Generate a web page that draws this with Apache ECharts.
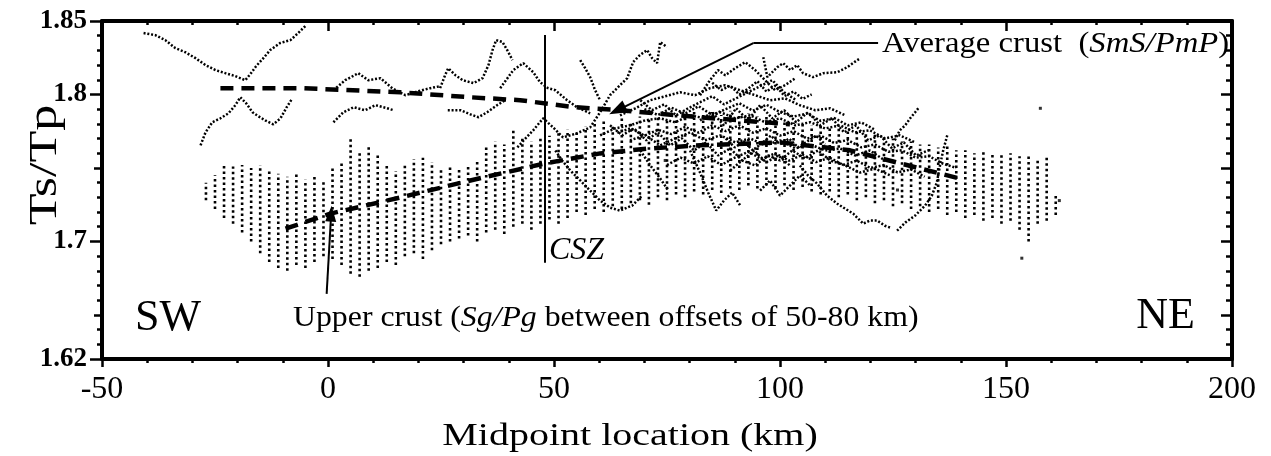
<!DOCTYPE html>
<html><head><meta charset="utf-8">
<script src="https://cdn.jsdelivr.net/npm/echarts@6/dist/echarts.min.js"></script>
<style>html,body{margin:0;padding:0;background:#fff}#c{width:1271px;height:456px}</style>
</head><body><div id="c"></div>
<script>
// ---------- axes ----------
const xRange = [-50, 200];
const yRange = [1.62, 1.85];
const xMajorTicks = [-50, 0, 50, 100, 150, 200];
const xMinorTicks = [-40,-30,-20,-10,10,20,30,40,60,70,80,90,110,120,130,140,160,170,180,190];
const yLabelValues = [1.62, 1.7, 1.8, 1.85];
const yMidTicks = [1.65, 1.75];
const yMinorTicks = [1.62,1.63,1.64,1.65,1.66,1.67,1.68,1.69,1.70,1.71,1.72,1.73,1.74,1.75,1.76,1.77,1.78,1.79,1.80,1.81,1.82,1.83,1.84,1.85];
const yRightLongTicks = [1.65, 1.7, 1.75, 1.8];

// ---------- thick dashed average lines ----------
const avgCrustLine = [[-23.8,1.8043],[-6.1,1.8043],[16.0,1.8015],[31.5,1.7981],[42.5,1.7961],[54.7,1.7913],[64.6,1.7893],[82.3,1.7845],[102.2,1.7797]];
const upperCrustLine = [[-9.4,1.7087],[0.5,1.7189],[16.0,1.7299],[31.5,1.7415],[48.0,1.7531],[60.2,1.7599],[71.3,1.7633],[82.4,1.7654],[100,1.7674],[115.5,1.762],[126.6,1.7531],[139.8,1.7428]];

// ---------- upper crust picks (Sg/Pg): columns [x, low, high] ----------
const upperColumns = [
[-27,1.728,1.740],[-25,1.722,1.745],[-23,1.716,1.752],[-21,1.712,1.751],[-19,1.706,1.752],[-17,1.700,1.750],
[-15,1.692,1.752],[-13,1.686,1.748],[-11,1.682,1.746],[-9,1.680,1.744],[-7,1.684,1.746],[-5,1.682,1.742],
[-3,1.686,1.745],[-1,1.690,1.742],[1,1.688,1.750],[3,1.684,1.755],[5,1.678,1.770],[7,1.676,1.762],
[9,1.680,1.765],[11,1.682,1.760],[13,1.686,1.752],[15,1.684,1.748],[17,1.690,1.752],[19,1.692,1.756],
[21,1.688,1.757],[23,1.694,1.754],[25,1.698,1.750],[27,1.700,1.752],[29,1.702,1.750],[31,1.704,1.752],
[33,1.700,1.755],[35,1.706,1.765],[37,1.708,1.768],[39,1.705,1.766],[41,1.710,1.776],[43,1.712,1.770],
[45,1.708,1.768],[47,1.712,1.770],[49,1.715,1.772],[51,1.712,1.774],[53,1.716,1.776],[55,1.720,1.774],
[57,1.718,1.778],[59,1.722,1.780],[61,1.720,1.782],[63,1.724,1.780],[65,1.722,1.784],[67,1.726,1.782],
[69,1.728,1.785],[71,1.725,1.783],[73,1.730,1.786],[75,1.728,1.784],[77,1.732,1.787],[79,1.730,1.785],
[81,1.734,1.788],[83,1.732,1.786],[85,1.735,1.788],[87,1.733,1.786],[89,1.736,1.789],[91,1.735,1.786],
[93,1.738,1.787],[95,1.736,1.785],[97,1.738,1.786],[99,1.736,1.784],[101,1.738,1.783],[103,1.735,1.781],
[105,1.737,1.782],[107,1.734,1.779],[109,1.732,1.780],[111,1.734,1.777],[113,1.730,1.778],[115,1.732,1.775],
[117,1.728,1.776],[119,1.730,1.773],[121,1.726,1.774],[123,1.728,1.771],[125,1.724,1.770],[127,1.726,1.768],
[129,1.722,1.768],[131,1.724,1.766],[133,1.720,1.766],[135,1.722,1.764],[137,1.718,1.765],[139,1.720,1.762],
[141,1.716,1.762],[143,1.718,1.760],[145,1.714,1.761],[147,1.716,1.760],[149,1.712,1.759],[151,1.714,1.760],
[153,1.708,1.758],[155,1.700,1.759],[157,1.712,1.757],[159,1.714,1.758],[161,1.718,1.732]
];

// ---------- average crust picks (SmS/PmP): traced curves ----------
const traceA = [[-40.8,1.8418],[-38.2,1.8404],[-36.0,1.837],[-33.8,1.8316],[-31.6,1.8288],[-29.3,1.8247],[-27.1,1.82],[-24.9,1.8166],[-22.7,1.8145],[-20.5,1.8125],[-18.3,1.8097],[-17.2,1.8138],[-15.9,1.8193],[-14.3,1.8247],[-12.8,1.8302],[-10.6,1.835],[-8.3,1.837],[-6.6,1.8418],[-5.0,1.8466]];
const traceB = [[-28.2,1.7654],[-27.1,1.7742],[-25.6,1.7811],[-23.8,1.7838],[-22.0,1.7872],[-20.5,1.7927],[-19.4,1.7981],[-18.1,1.794],[-16.7,1.7879],[-15.4,1.7852],[-13.9,1.7824],[-12.1,1.7797],[-10.5,1.7838],[-9.2,1.791],[-7.9,1.7974]];
const traceC = [[1.2,1.8029],[3.8,1.8097],[6.7,1.8145],[8.9,1.8097],[11.6,1.8111],[14.2,1.8043],[17.1,1.7995],[20.0,1.8022],[22.6,1.8043],[24.8,1.8056]];
const traceD = [[1.2,1.7811],[3.4,1.7879],[5.7,1.7913],[8.2,1.7893],[10.5,1.7927],[12.7,1.791],[14.5,1.7893]];
const traceE = [[24.8,1.8043],[25.9,1.8131],[26.6,1.8179],[28.2,1.8131],[29.8,1.8097],[32.2,1.8077],[34.2,1.8111],[35.5,1.82],[36.4,1.8302],[37.2,1.837],[38.6,1.8357],[39.9,1.8288],[40.8,1.8234]];
const traceF = [[26.5,1.7893],[29.3,1.7893],[31.5,1.7865],[33.3,1.7845],[35.2,1.7879],[37.4,1.7927],[39.2,1.7961]];
const traceG = [[38.1,1.8043],[39.7,1.8111],[41.0,1.8166],[43.2,1.8213],[45.4,1.8152],[46.9,1.8084],[48.7,1.8043],[50.3,1.8029],[52.9,1.7961],[55.1,1.7913],[58.0,1.7872]];
const traceH = [[41.9,1.764],[43.7,1.7701],[45.4,1.7756],[47.6,1.7838],[49.8,1.7776],[52.0,1.7708],[55.1,1.7736],[58.0,1.7776],[60.2,1.7879],[62.4,1.7995],[64.6,1.8063],[66.2,1.8111],[67.5,1.822],[69.0,1.8268],[70.6,1.8302],[71.7,1.8247],[72.8,1.8213],[73.5,1.8357],[75.0,1.8323]];
const traceI = [[55.8,1.8234],[56.9,1.8179],[58.0,1.8118],[59.1,1.8029],[60.2,1.7961]];
const traceJ = [[64.6,1.7858],[68.0,1.7906],[71.3,1.7961],[74.6,1.7988],[77.9,1.8015],[81.2,1.7995],[84.5,1.8043],[87.9,1.8063],[91.2,1.8029],[94.5,1.7995],[97.8,1.7961],[101.1,1.7974],[104.4,1.7927],[107.8,1.7893],[111.1,1.7906],[114.4,1.7858]];
const traceK = [[60.2,1.7722],[63.5,1.7769],[66.8,1.779],[70.2,1.7824],[73.5,1.7838],[76.8,1.7811],[80.1,1.7858],[83.4,1.7838],[86.8,1.7879],[90.1,1.7838],[93.4,1.7858],[96.7,1.7811],[100.0,1.7838],[103.4,1.779],[106.7,1.7811],[110.0,1.7769],[113.3,1.779],[116.6,1.7742],[119.9,1.7756],[123.2,1.7701],[126.5,1.7722],[129.9,1.7674]];
const traceL = [[66.8,1.7688],[70.2,1.7722],[73.5,1.7654],[76.8,1.7701],[80.1,1.7742],[83.4,1.7688],[86.8,1.7722],[90.1,1.7674],[93.4,1.7701],[96.7,1.7654],[100.0,1.7688],[103.4,1.7633],[106.7,1.766],[110.0,1.7619],[113.3,1.7633],[116.6,1.7585],[119.9,1.7619],[123.2,1.7551]];
const traceM = [[96.3,1.8254],[97.2,1.8118],[99.4,1.8186],[100.7,1.8213],[102.3,1.8166],[103.8,1.82],[105.1,1.8145],[107.3,1.8118],[109.6,1.8145],[112.7,1.8152],[114.9,1.8186],[117.1,1.8234],[117.8,1.8247]];
const traceN = [[125.9,1.7073],[127.7,1.7128],[129.9,1.7176],[132.1,1.7244],[133.6,1.7312],[134.7,1.7401],[135.4,1.7517],[136.1,1.7619],[137.0,1.7722]];
const traceO = [[125.4,1.7688],[126.5,1.7756],[127.7,1.779],[128.8,1.7838],[129.9,1.7879],[130.6,1.7906]];
const traceP = [[104.4,1.7517],[106.2,1.7449],[108.2,1.7394],[110.4,1.7312],[112.6,1.7258],[114.4,1.7223],[116.2,1.7189],[118.4,1.7121],[119.9,1.7142],[121.5,1.7142],[123.2,1.7107],[124.4,1.7094]];
const traceQ = [[80.1,1.7619],[82.3,1.7469],[84.1,1.7333],[85.9,1.721],[87.6,1.7278],[89.4,1.7333],[91.2,1.7244]];
const traceR = [[69.1,1.7619],[71.3,1.7517],[73.5,1.7428],[75.3,1.7346]];
const traceS = [[50.3,1.7619],[51.8,1.7551],[53.6,1.7483],[55.8,1.7415],[58.0,1.7346],[60.2,1.7278],[62.4,1.723],[64.6,1.721],[67.3,1.7244],[69.5,1.7312]];
const traceT = [[82.3,1.7995],[84.5,1.8097],[86.3,1.8166],[87.9,1.8131],[90.1,1.8179],[92.3,1.822],[94.5,1.8166],[96.7,1.8097],[98.9,1.8029],[101.1,1.8063],[103.4,1.8111]];
const traceU = [[89.0,1.7483],[91.6,1.7551],[94.5,1.7517],[97.4,1.7585],[100.0,1.7551],[102.7,1.7619],[105.6,1.7565],[108.4,1.7619],[111.1,1.7551],[114.4,1.7517],[117.7,1.7469],[121.0,1.7496],[124.4,1.7449]];
const traceV = [[95.6,1.7346],[97.8,1.7415],[100.0,1.7312],[102.2,1.738],[104.4,1.7449],[106.7,1.738]];
const traceW = [[62.4,1.779],[65.1,1.7722],[67.7,1.7769],[70.4,1.7688],[73.0,1.7742],[75.7,1.7654],[78.3,1.7701],[81.0,1.7619],[83.7,1.7674],[86.3,1.7585],[89.0,1.7633],[91.6,1.7551],[94.3,1.7619],[96.9,1.7538],[99.6,1.7585],[102.2,1.7517]];
const traceX = [[82.3,1.7824],[85.0,1.7879],[87.6,1.779],[90.3,1.7906],[92.9,1.7824],[95.6,1.7927],[98.3,1.7838],[100.9,1.7893],[103.6,1.7811],[106.2,1.7879],[108.9,1.779],[111.5,1.7838],[114.2,1.7742],[116.8,1.779],[119.5,1.7688],[122.1,1.7722],[124.8,1.7633],[127.4,1.7674],[130.1,1.7585],[132.8,1.7619]];
const traceY = [[69.1,1.7961],[71.7,1.7893],[74.4,1.7933],[77.0,1.7858],[79.7,1.7906],[82.3,1.7947],[85.0,1.7988],[87.6,1.7933],[90.3,1.7974],[92.9,1.8015],[95.6,1.8056],[98.3,1.8097],[100.9,1.8015],[103.6,1.7961]];
const traceZ1 = [[64,1.774],[67,1.777],[70,1.772],[73,1.776],[76,1.773],[79,1.778],[82,1.774],[85,1.779],[88,1.775],[91,1.779],[94,1.774],[97,1.777],[100,1.772],[103,1.775],[106,1.770],[109,1.772],[112,1.767],[115,1.769],[118,1.764],[121,1.766],[124,1.761],[127,1.762],[130,1.757],[133,1.758],[136,1.753],[139,1.750]];
const traceZ2 = [[70,1.790],[73,1.786],[76,1.791],[79,1.787],[82,1.792],[85,1.786],[88,1.790],[91,1.794],[94,1.789],[97,1.793],[100,1.788],[103,1.785],[106,1.787],[109,1.782],[112,1.784],[115,1.779],[118,1.781],[121,1.776]];
const traceZ3 = [[85,1.808],[87,1.803],[89,1.806],[91,1.800],[93,1.804],[95,1.809],[97,1.802],[99,1.806],[101,1.799],[103,1.802],[105,1.797],[107,1.800]];
const traceZ4 = [[75,1.752],[78,1.757],[81,1.753],[84,1.758],[87,1.752],[90,1.757],[93,1.761],[96,1.756],[99,1.760],[102,1.755],[105,1.759],[108,1.754],[111,1.757],[114,1.752],[117,1.755],[120,1.750],[123,1.752],[126,1.747],[129,1.749],[132,1.744]];
const traceZ5 = [[88,1.770],[90,1.764],[92,1.768],[94,1.762],[96,1.767],[98,1.772],[100,1.766],[102,1.770],[104,1.764],[106,1.768],[108,1.772],[110,1.766]];
const isolatedPicks = [[157.6,1.7906],[153.5,1.6886],[161.8,1.7278],[74.6,1.7551],[126.0,1.7350]];

// ---------- annotations (data coordinates) ----------
const cszLine = [[48,1.8405],[48,1.6855]];
const avgArrow = [[121.7,1.835],[94.1,1.835],[64.0,1.7892]];
const upperArrow = [[-0.3,1.6643],[0.7,1.7189]];

const traces = [traceA,traceB,traceC,traceD,traceE,traceF,traceG,traceH,traceI,traceJ,traceK,traceL,traceM,
  traceN,traceO,traceP,traceQ,traceR,traceS,traceT,traceU,traceV,traceW,traceX,traceY,
  traceZ1,traceZ2,traceZ3,traceZ4,traceZ5];

const FONT = "'Liberation Serif','Times New Roman',serif";
const chart = echarts.init(document.getElementById('c'), null, {renderer:'canvas'});

const series = [];
series.push({
  type:'custom', xAxisIndex:0, yAxisIndex:0, silent:true, animation:false,
  data: upperColumns, encode:{x:0, y:[1,2]},
  renderItem: function(params, api){
    const p1 = api.coord([api.value(0), api.value(1)]);
    const p2 = api.coord([api.value(0), api.value(2)]);
    return {type:'line', shape:{x1:p1[0],y1:p1[1],x2:p2[0],y2:p2[1]},
      style:{stroke:'#000', lineWidth:2.6, lineDash:[2.5,3]}};
  }
});
traces.forEach(function(t){
  series.push({type:'line', data:t, showSymbol:false, silent:true, animation:false,
    lineStyle:{color:'#000', width:2.5, type:[2,1.8]}});
});
series.push({type:'scatter', data:isolatedPicks, symbol:'rect', symbolSize:3, silent:true,
  itemStyle:{color:'#000'}, animation:false});
series.push({type:'line', data:avgCrustLine, showSymbol:false, silent:true, animation:false,
  lineStyle:{color:'#000', width:4.5, type:[13,8]}});
series.push({type:'line', data:upperCrustLine, showSymbol:false, silent:true, animation:false,
  lineStyle:{color:'#000', width:4.5, type:[13,8]}});
series.push({type:'line', data:[], silent:true, animation:false,
  markLine:{silent:true, animation:false, label:{show:false}, symbol:['none','none'],
    lineStyle:{color:'#000', width:2, type:'solid'},
    data:[
      [{coord:cszLine[0], symbol:'none'},{coord:cszLine[1], symbol:'none'}],
      [{coord:avgArrow[0], symbol:'none'},{coord:avgArrow[1], symbol:'none'}],
      [{coord:avgArrow[1], symbol:'none'},{coord:avgArrow[2], symbol:'triangle', symbolSize:[13,18]}],
      [{coord:upperArrow[0], symbol:'none'},{coord:upperArrow[1], symbol:'triangle', symbolSize:[11,16]}]
    ]}
});

const TICK = {color:'#000', width:2.5};
const axLine = {show:true, onZero:false, lineStyle:{color:'#000', width:4}};
const noLine = {show:false, onZero:false};
function xAx(pos, line, ticks, len, inside, label){
  return {type:'value', min:xRange[0], max:xRange[1], position:pos, splitLine:{show:false},
    axisLine: line ? axLine : noLine,
    axisTick:{show:true, inside:inside, customValues:ticks, length:len, lineStyle:TICK},
    axisLabel: label ? {show:true, customValues:xMajorTicks, margin:15, color:'#000', fontFamily:FONT, fontSize:32} : {show:false}};
}
function yAx(pos, line, ticks, len, inside, label){
  return {type:'value', min:yRange[0], max:yRange[1], position:pos, splitLine:{show:false},
    axisLine: line ? axLine : noLine,
    axisTick:{show:true, inside:inside, customValues:ticks, length:len, lineStyle:TICK},
    axisLabel: label ? {show:true, customValues:yLabelValues, margin:15, color:'#000', fontFamily:FONT,
      fontSize:27, fontWeight:'bold', formatter:function(v){return String(+(+v).toFixed(2));}} : {show:false}};
}

const option = {
  backgroundColor:'#fff',
  animation:false,
  grid:{left:102, right:39, top:21, bottom:97, containLabel:false},
  xAxis:[
    xAx('bottom', true, xMajorTicks, 8, false, true),
    xAx('bottom', false, xMinorTicks, 4, false, false),
    xAx('top', true, xMajorTicks, 10, true, false),
    xAx('top', false, xMinorTicks, 4, true, false)
  ],
  yAxis:[
    yAx('left', true, yLabelValues, 12, false, true),
    yAx('left', false, yMidTicks, 8, false, false),
    yAx('left', false, yMinorTicks, 5, false, false),
    yAx('right', true, yMinorTicks, 6, true, false),
    yAx('right', false, yRightLongTicks, 11, true, false)
  ],
  series: series,
  graphic:[
    {type:'text', x:45, y:165, rotation:Math.PI/2, scaleX:1.3, silent:true,
      style:{text:'Ts/Tp', font:'40px '+FONT, fill:'#000', textAlign:'center', textVerticalAlign:'middle'}},
    {type:'text', x:630, y:437, scaleX:1.25, silent:true,
      style:{text:'Midpoint location (km)', font:'32px '+FONT, fill:'#000', textAlign:'center', textVerticalAlign:'middle'}},
    {type:'text', x:135, y:318, silent:true,
      style:{text:'SW', font:'44px '+FONT, fill:'#000', textAlign:'left', textVerticalAlign:'middle'}},
    {type:'text', x:1195, y:316, silent:true,
      style:{text:'NE', font:'44px '+FONT, fill:'#000', textAlign:'right', textVerticalAlign:'middle'}},
    {type:'text', x:549, y:251, silent:true,
      style:{text:'CSZ', font:'italic 32px '+FONT, fill:'#000', textAlign:'left', textVerticalAlign:'middle'}},
    {type:'text', x:293, y:318, scaleX:1.06, silent:true,
      style:{text:'{n|Upper crust (}{i|Sg/Pg}{n| between offsets of 50-80 km)}', fill:'#000',
        textAlign:'left', textVerticalAlign:'middle',
        rich:{n:{fontFamily:FONT, fontSize:30, fill:'#000'}, i:{fontFamily:FONT, fontSize:30, fontStyle:'italic', fill:'#000'}}}},
    {type:'text', x:882, y:44, scaleX:1.09, silent:true,
      style:{text:'{n|Average crust  (}{i|SmS/PmP}{n|)}', fill:'#000',
        textAlign:'left', textVerticalAlign:'middle',
        rich:{n:{fontFamily:FONT, fontSize:30, fill:'#000'}, i:{fontFamily:FONT, fontSize:30, fontStyle:'italic', fill:'#000'}}}}
  ]
};
chart.setOption(option);
</script>
</body></html>
